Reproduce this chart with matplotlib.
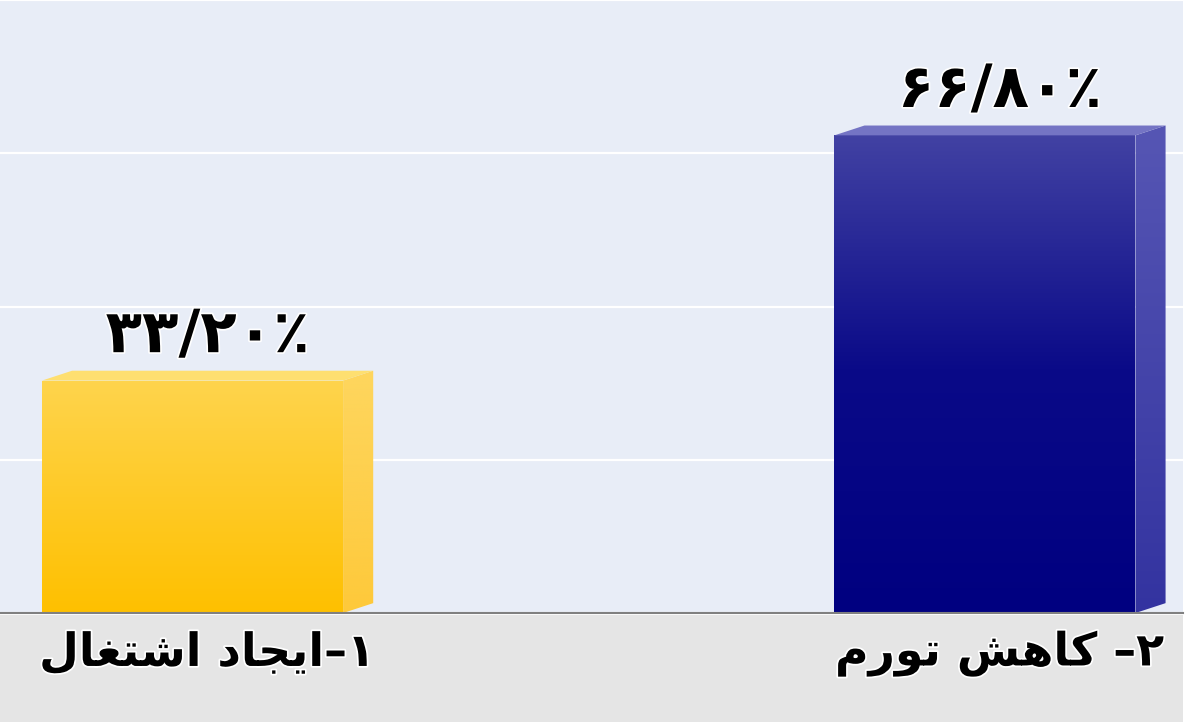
import numpy as np
import matplotlib
matplotlib.use('Agg')
import matplotlib.pyplot as plt
import matplotlib.patheffects as pe
from matplotlib.patches import Rectangle, Polygon
from matplotlib.colors import LinearSegmentedColormap

plt.rcParams['font.family'] = ['DejaVu Sans']

# data
categories = ['۱–ایجاد اشتغال', '۲– کاهش تورم']
values = [33.20, 66.80]
value_labels = ['۳۳/۲۰٪', '۶۶/۸۰٪']

# (isolated, final, initial, medial) presentation forms
forms = {
    'ا': ('\uFE8D', '\uFE8E', None, None),
    'د': ('\uFEA9', '\uFEAA', None, None),
    'ر': ('\uFEAD', '\uFEAE', None, None),
    'و': ('\uFEED', '\uFEEE', None, None),
    'ی': ('\uFBFC', '\uFBFD', '\uFBFE', '\uFBFF'),
    'ج': ('\uFE9D', '\uFE9E', '\uFE9F', '\uFEA0'),
    'ش': ('\uFEB5', '\uFEB6', '\uFEB7', '\uFEB8'),
    'ت': ('\uFE95', '\uFE96', '\uFE97', '\uFE98'),
    'غ': ('\uFECD', '\uFECE', '\uFECF', '\uFED0'),
    'ل': ('\uFEDD', '\uFEDE', '\uFEDF', '\uFEE0'),
    'ک': ('\uFB8E', '\uFB8F', '\uFB90', '\uFB91'),
    'ه': ('\uFEE9', '\uFEEA', '\uFEEB', '\uFEEC'),
    'م': ('\uFEE1', '\uFEE2', '\uFEE3', '\uFEE4'),
}

def dual(c):
    return c in forms and forms[c][2] is not None

def shape(s):
    # pick contextual forms, then reverse for right-to-left display
    out = []
    for i, c in enumerate(s):
        if c not in forms:
            out.append(c)
            continue
        prev = s[i - 1] if i > 0 else ''
        nxt = s[i + 1] if i < len(s) - 1 else ''
        jp = dual(prev)
        jn = dual(c) and nxt in forms
        k = 3 if (jp and jn) else 1 if jp else 2 if jn else 0
        out.append(forms[c][k])
    return ''.join(out[::-1])

fig = plt.figure(figsize=(12, 7.22), dpi=100)
fig.patch.set_facecolor('white')
fig.patches.append(Rectangle((0, 0), 1183 / 1200, 107 / 722, transform=fig.transFigure,
                             facecolor='#e5e5e5', edgecolor='none', zorder=0))

ax = fig.add_axes([0, 109 / 722, 1183 / 1200, 613 / 722])
ax.set_zorder(1)
ax.set_facecolor('#e8edf7')

w = 0.38
dx = 0.038
dy = 1.35
ymax = 84
x = np.arange(len(values))

front_cols = [['#ffc000', '#fed550'], ['#000080', '#0a0a88', '#4444a4']]
side_cols = [['#fec93a', '#fed65e'], ['#3333a0', '#5656b4']]
top_cols = ['#fedf70', '#7474c4']

for i, v in enumerate(values):
    x0 = x[i] - w / 2
    x1 = x[i] + w / 2
    faces = [
        ([(x0, 0), (x1, 0), (x1, v - dy), (x0, v - dy)], front_cols[i]),
        ([(x1, 0), (x1 + dx, dy), (x1 + dx, v), (x1, v - dy)], side_cols[i]),
    ]
    for pts, cols in faces:
        poly = Polygon(pts, closed=True, facecolor='none', edgecolor='none')
        ax.add_patch(poly)
        cmap = LinearSegmentedColormap.from_list('g', cols)
        grad = np.linspace(0, 1, 256).reshape(-1, 1)
        xs = [p[0] for p in pts]
        im = ax.imshow(grad, cmap=cmap, origin='lower', aspect='auto',
                       extent=(min(xs), max(xs), 0, v), zorder=2)
        im.set_clip_path(poly)
    ax.add_patch(Polygon([(x0, v - dy), (x0 + dx, v), (x1 + dx, v), (x1, v - dy)],
                         closed=True, facecolor=top_cols[i], edgecolor='none', zorder=3))

    ax.text(x[i] + dx / 2, v + 4.8, value_labels[i], ha='center', va='center',
            fontsize=43, fontweight='bold', color='black', zorder=4,
            path_effects=[pe.withStroke(linewidth=2.5, foreground='white')])
    ax.text(x[i] + dx / 2, -0.066, shape(categories[i]), transform=ax.get_xaxis_transform(),
            ha='center', va='center', fontsize=33, fontweight='bold', color='black',
            clip_on=False, zorder=4,
            path_effects=[pe.withStroke(linewidth=2.5, foreground='white')])

ax.set_xlim(-0.243, 1.25)
ax.set_ylim(0, ymax)
ax.set_yticks(np.linspace(0, ymax, 5))
ax.grid(axis='y', color='white', linewidth=1.6)
ax.set_axisbelow(True)
ax.tick_params(left=False, bottom=False, labelleft=False, labelbottom=False)
for s in ['top', 'right', 'left']:
    ax.spines[s].set_visible(False)
ax.spines['bottom'].set_color('#808080')
ax.spines['bottom'].set_linewidth(1.5)

fig.savefig('out.png', dpi=100)
